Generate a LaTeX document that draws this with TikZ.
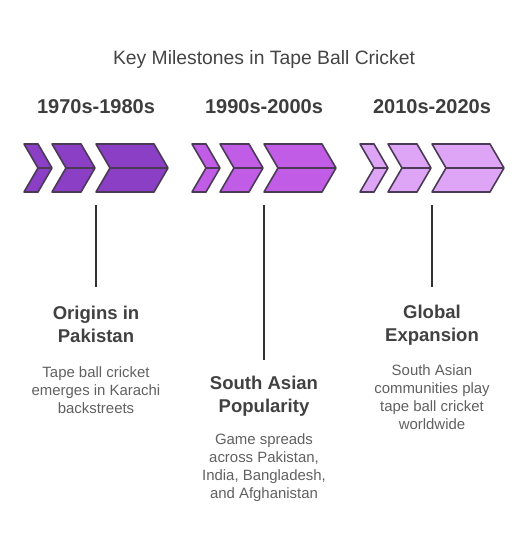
\documentclass[tikz,border=0pt]{standalone}
\usepackage{fontspec}
\setmainfont{Liberation Sans}

\definecolor{edgeclr}{HTML}{4B3A55}
\definecolor{fillA}{HTML}{8A3FC4}
\definecolor{fillB}{HTML}{C05CE6}
\definecolor{fillC}{HTML}{DEA5F6}
\definecolor{textclr}{HTML}{444444}

% one chevron: left x, width, fill
\newcommand{\chevshape}[3]{%
  \draw [chev, fill=#3] (#1,144) -- ++({#2-14},0) -- ++(14,24) -- ++(-14,24)
        -- ++({14-#2},0) -- ++(14,-24) -- cycle;
  \draw [chev] ({#1+14},168) -- ({#1+#2},168);
}
% three chevrons of one period
\newcommand{\chevgroup}[2]{%
  \chevshape{#1}{28}{#2}
  \chevshape{#1+28}{43}{#2}
  \chevshape{#1+72}{72}{#2}
}

\begin{document}
\begin{tikzpicture}[
    x=0.75pt, y=-0.75pt,
    chev/.style={draw=edgeclr, line width=1.2pt, line join=round},
    title/.style={text=textclr, font=\fontsize{14.5}{17}\selectfont},
    period/.style={text=textclr!90!black, font=\fontsize{15}{18}\selectfont\bfseries},
    heading/.style={text=textclr!95!black, align=center, inner sep=0pt,
                    font=\fontsize{13.9}{17.25}\selectfont\bfseries},
    desc/.style={text=textclr!85!white, align=center, inner sep=0pt,
                 font=\fontsize{11.2}{13.5}\selectfont},
    tick/.style={draw=black!80, line width=1.1pt},
]
  \useasboundingbox (0,0) rectangle (528,552);

  \node [title]  (ttl) at (264,60)  {Key Milestones in Tape Ball Cricket};

  \node [period] (p1)  at (96,107)  {1970s-1980s};
  \node [period] (p2)  at (264,107) {1990s-2000s};
  \node [period] (p3)  at (432,107) {2010s-2020s};

  \chevgroup{24}{fillA}
  \chevgroup{192}{fillB}
  \chevgroup{360}{fillC}

  \coordinate (t1) at (96,205);
  \coordinate (t2) at (264,205);
  \coordinate (t3) at (432,205);
  \coordinate (b1) at (96,287);
  \coordinate (b2) at (264,360);
  \coordinate (b3) at (432,287);
  \draw [tick] (t1) -- (b1);
  \draw [tick] (t2) -- (b2);
  \draw [tick] (t3) -- (b3);

  \node [heading] (h1) at (96,324)    {Origins in\\Pakistan};
  \node [heading] (h2) at (264,396.5) {South Asian\\Popularity};
  \node [heading] (h3) at (432,325)   {Global\\Expansion};

  \node [desc] (d1) at (96,390)  {Tape ball cricket\\emerges in Karachi\\backstreets};
  \node [desc] (d2) at (264,468) {Game spreads\\across Pakistan,\\India, Bangladesh,\\and Afghanistan};
  \node [desc] (d3) at (432,397) {South Asian\\communities play\\tape ball cricket\\worldwide};
\end{tikzpicture}
\end{document}
